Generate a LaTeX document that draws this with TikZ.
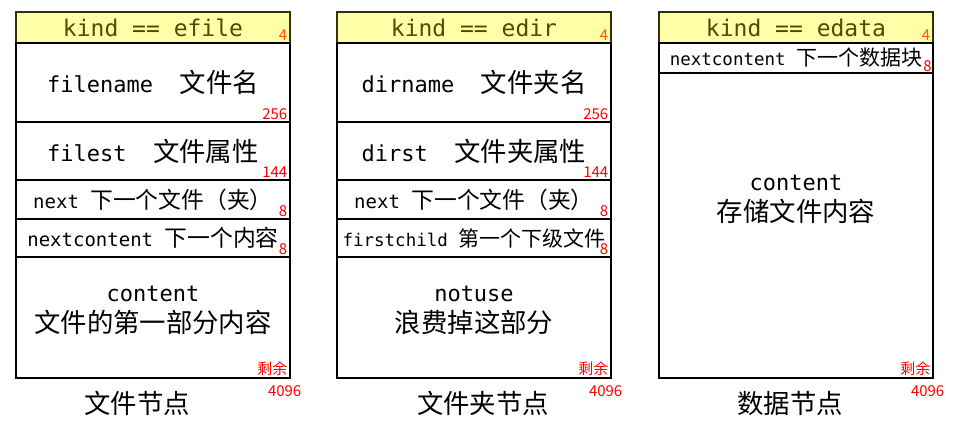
\documentclass[tikz,border=0pt]{standalone}
\usepackage{fontspec}
\setmainfont{DejaVu Sans Mono}
\newfontfamily\cjk{Noto Sans CJK SC}[Scale=1.2]
\newfontfamily\tagfont{Noto Sans CJK SC}
\usepackage{xcolor}
\definecolor{headfill}{HTML}{FFFFA8}
\definecolor{headline}{HTML}{333300}
\definecolor{headtext}{HTML}{4D4D00}
\definecolor{tagred}{HTML}{FF0000}
\definecolor{tagorange}{HTML}{FF5500}

\begin{document}
\begin{tikzpicture}[x=1pt, y=-1pt,
    row/.style={draw, line width=2pt, minimum width=274pt, inner sep=0pt},
    head/.style={row, draw=headline, fill=headfill, text=headtext, minimum height=31pt, font=\fontsize{23}{26}\selectfont},
    big/.style={font=\fontsize{22}{31}\selectfont},
    small/.style={font=\fontsize{19}{23}\selectfont},
    tiny/.style={font=\fontsize{17.5}{21}\selectfont},
    tag/.style={text=tagred, inner sep=3.5pt, font=\tagfont\fontsize{15}{15}\selectfont},
    caption/.style={font=\cjk\fontsize{22}{26}\selectfont}]
    \useasboundingbox (0,0) rectangle (962,428);

    % First, the file node
        \node[head] (fkind) at (153,27.5) {kind == efile};
        \node[row, big, minimum height=79pt] (fname) at (153,82.5) {filename~~{\cjk 文件名}};
        \node[row, big, minimum height=58pt] (fst) at (153,151) {filest~~{\cjk 文件属性}};
        \node[row, small, minimum height=39pt] (fnext) at (153,199.5) {next {\cjk 下一个文件（夹）}};
        \node[row, small, minimum height=38pt] (fnextc) at (153,238) {nextcontent {\cjk 下一个内容}};
        \node[row, minimum height=121pt] (fcont) at (153,317.5) {};
        \node[big, align=center] (fconttext) at (153,310) {content\\{\cjk 文件的第一部分内容}};

    % Then the folder node
        \node[head] (dkind) at (474,27.5) {kind == edir};
        \node[row, big, minimum height=79pt] (dname) at (474,82.5) {dirname~~{\cjk 文件夹名}};
        \node[row, big, minimum height=58pt] (dst) at (474,151) {dirst~~{\cjk 文件夹属性}};
        \node[row, small, minimum height=39pt] (dnext) at (474,199.5) {next {\cjk 下一个文件（夹）}};
        \node[row, tiny, minimum height=38pt] (dchild) at (474,238) {firstchild {\cjk 第一个下级文件}};
        \node[row, minimum height=121pt] (dcont) at (474,317.5) {};
        \node[big, align=center] (dconttext) at (474,310) {notuse\\{\cjk 浪费掉这部分}};

    % And the data node
        \node[head] (ekind) at (796,27.5) {kind == edata};
        \node[row, tiny, minimum height=30pt] (enextc) at (796,58) {nextcontent {\cjk 下一个数据块}};
        \node[row, minimum height=305pt] (econt) at (796,225.5) {};
        \node[big, align=center] (econttext) at (796,199) {content\\{\cjk 存储文件内容}};

    % Now the sizes:
        \node[tag, text=tagorange, anchor=south east] (fkindsz) at (fkind.south east) {4};
        \node[tag, anchor=south east] (fnamesz) at (fname.south east) {256};
        \node[tag, anchor=south east] (fstsz) at (fst.south east) {144};
        \node[tag, anchor=south east] (fnextsz) at (fnext.south east) {8};
        \node[tag, anchor=south east] (fnextcsz) at (fnextc.south east) {8};
        \node[tag, anchor=south east] (fcontsz) at (fcont.south east) {剩余};
        \node[tag, anchor=north east, xshift=14pt, yshift=-3pt] (ftotal) at (fcont.south east) {4096};

        \node[tag, text=tagorange, anchor=south east] (dkindsz) at (dkind.south east) {4};
        \node[tag, anchor=south east] (dnamesz) at (dname.south east) {256};
        \node[tag, anchor=south east] (dstsz) at (dst.south east) {144};
        \node[tag, anchor=south east] (dnextsz) at (dnext.south east) {8};
        \node[tag, anchor=south east] (dchildsz) at (dchild.south east) {8};
        \node[tag, anchor=south east] (dcontsz) at (dcont.south east) {剩余};
        \node[tag, anchor=north east, xshift=14pt, yshift=-3pt] (dtotal) at (dcont.south east) {4096};

        \node[tag, text=tagorange, anchor=south east] (ekindsz) at (ekind.south east) {4};
        \node[tag, anchor=south east, inner sep=2pt] (enextcsz) at (enextc.south east) {8};
        \node[tag, anchor=south east] (econtsz) at (econt.south east) {剩余};
        \node[tag, anchor=north east, xshift=14pt, yshift=-3pt] (etotal) at (econt.south east) {4096};

    % Captions under the nodes
        \node[caption] (fcap) at (137,403) {文件节点};
        \node[caption] (dcap) at (483,403) {文件夹节点};
        \node[caption] (ecap) at (790,403) {数据节点};
    \end{tikzpicture}
\end{document}
